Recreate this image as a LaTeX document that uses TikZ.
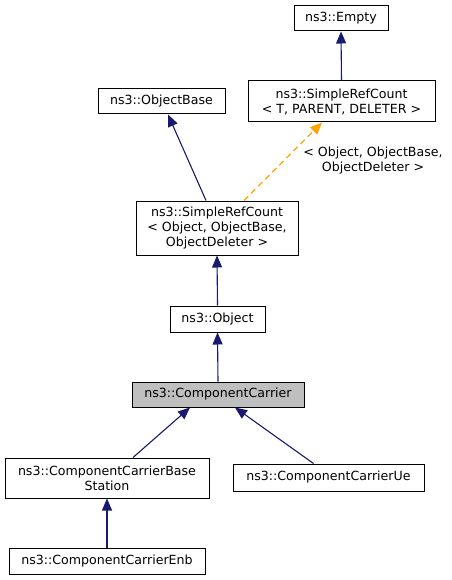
\documentclass[tikz,border=0pt]{standalone}
\usepackage{fontspec}
\setmainfont{DejaVu Sans}
\usetikzlibrary{arrows.meta}
\begin{document}
\begin{tikzpicture}[x=1pt,y=1pt,
  cls/.style={draw=black,line width=1pt,fill=white,inner sep=0pt,align=center,
    font=\fontsize{12.6}{15}\selectfont},
  edge/.style={draw={rgb,255:red,25;green,25;blue,112},line width=1.1pt,
    -{Triangle[length=12pt,width=10pt]}},
  tmpl/.style={draw={rgb,255:red,255;green,165;blue,0},line width=1.1pt,dashed,
    dash pattern=on 6pt off 4pt,
    -{Triangle[length=12pt,width=10pt]}},
  lbl/.style={align=center,inner sep=0pt,font=\fontsize{12.6}{15}\selectfont}]
\useasboundingbox (0,0) rectangle (451,-580);
\node[cls,minimum width=94,minimum height=25] (empty) at (341,-18.5) {ns3::Empty};
\node[cls,minimum width=187,minimum height=41] (srct) at (341.5,-101.5) {ns3::SimpleRefCount\\\hspace*{0pt}< T, PARENT, DELETER >};
\node[cls,minimum width=127,minimum height=25] (obase) at (161.5,-101.5) {ns3::ObjectBase};
\node[cls,minimum width=162,minimum height=54] (srco) at (217,-228) {ns3::SimpleRefCount\\< Object, ObjectBase,\\ObjectDeleter >};
\node[cls,minimum width=95,minimum height=26] (obj) at (217.5,-319) {ns3::Object};
\node[cls,fill={rgb,255:red,191;green,191;blue,191},minimum width=172,minimum height=25] (cc) at (218,-394.5) {ns3::ComponentCarrier};
\node[cls,minimum width=204,minimum height=40] (ccbs) at (107,-478) {ns3::ComponentCarrierBase\\Station};
\node[cls,minimum width=191,minimum height=27] (ccue) at (328.5,-477.5) {ns3::ComponentCarrierUe};
\node[cls,minimum width=196,minimum height=26] (enb) at (107,-561) {ns3::ComponentCarrierEnb};
\node[lbl] (tl) at (373,-160.5) {< Object, ObjectBase,\\ObjectDeleter >};
\draw[edge] (srct.north) -- (empty.south);
\draw[edge] ([xshift=-11pt]srco.north) -- ([xshift=6.5pt]obase.south);
\draw[tmpl] ([xshift=27pt]srco.north) -- ([xshift=-19.5pt]srct.south);
\draw[edge] (obj.north) -- (srco.south);
\draw[edge] (cc.north) -- (obj.south);
\draw[edge] ([xshift=26pt]ccbs.north) -- ([xshift=-28pt]cc.south);
\draw[edge] ([xshift=-15pt]ccue.north) -- ([xshift=17pt]cc.south);
\draw[edge] (enb.north) -- (ccbs.south);
\end{tikzpicture}
\end{document}
